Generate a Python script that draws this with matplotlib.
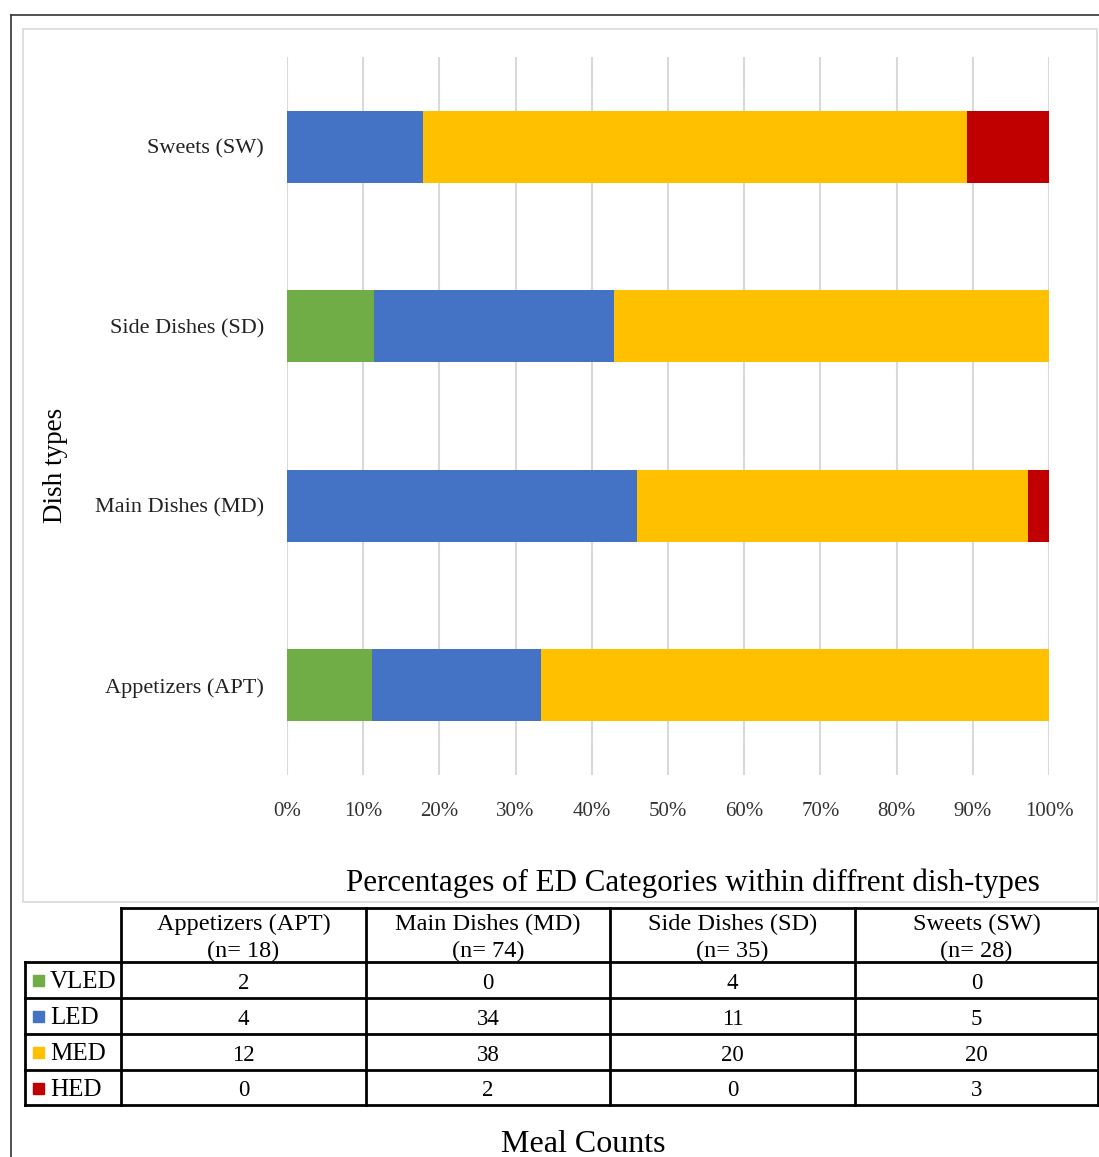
"""Stacked percentage bars of ED categories per dish type, with count table."""

import matplotlib

matplotlib.use("Agg")

import matplotlib.pyplot as plt
import numpy as np
from matplotlib.patches import Rectangle


DISH_TYPES = ["Appetizers (APT)", "Main Dishes (MD)", "Side Dishes (SD)", "Sweets (SW)"]
DISH_N = [18, 74, 35, 28]
CATEGORIES = ["VLED", "LED", "MED", "HED"]
COLORS = ["#70AD47", "#4472C4", "#FFC000", "#C00000"]
VLED = [2, 0, 4, 0]
LED = [4, 34, 11, 5]
MED = [12, 38, 20, 20]
HED = [0, 2, 0, 3]
X_TICKS = [0, 10, 20, 30, 40, 50, 60, 70, 80, 90, 100]

W, H = 1099, 1157
SERIF = ["Liberation Serif", "DejaVu Serif"]


def main() -> None:
    plt.rcParams["font.family"] = SERIF
    fig = plt.figure(figsize=(W / 100, H / 100), dpi=100)

    # background frame: dark outer border + light chart area border
    bg = fig.add_axes([0, 0, 1, 1])
    bg.set_xlim(0, W)
    bg.set_ylim(H, 0)
    bg.axis("off")
    bg.plot([11, W], [15, 15], color="#333333", lw=1.2)
    bg.plot([11, 11], [15, H], color="#333333", lw=1.2)
    bg.add_patch(Rectangle((23, 29), 1074, 873, fill=False, ec="#D9D9D9", lw=1.2))

    counts = np.array([VLED, LED, MED, HED], dtype=float)
    pct = counts / counts.sum(axis=0) * 100

    ax = fig.add_axes([287 / W, 1 - 775 / H, (1049 - 287) / W, (775 - 57) / H])
    y = np.arange(len(DISH_TYPES))
    left = np.zeros(len(DISH_TYPES))
    for row, color in zip(pct, COLORS):
        ax.barh(y, row, left=left, height=0.4, color=color, zorder=3)
        left += row
    ax.set_xlim(0, 100)
    ax.set_ylim(-0.5, 3.5)
    ax.set_xticks(X_TICKS)
    ax.set_xticklabels([f"{t}%" for t in X_TICKS], fontsize=15, color="#333333")
    ax.set_yticks(y)
    ax.set_yticklabels(DISH_TYPES, fontsize=16, color="#222222")
    ax.tick_params(length=0)
    ax.tick_params(axis="x", pad=19.5)
    ax.tick_params(axis="y", pad=16.5)
    ax.grid(axis="x", color="#D9D9D9", lw=1.5, zorder=0)
    for spine in ax.spines.values():
        spine.set_visible(False)

    fig.text(55 / W, 1 - 465 / H, "Dish types", rotation=90, ha="center",
             va="center", fontsize=19.5)
    fig.text(693 / W, 1 - 883 / H, "Percentages of ED Categories within diffrent dish-types",
             ha="center", va="center", fontsize=22.3)

    # count table
    col_x = [25, 121, 366, 610, 855, W - 1]
    row_y = [908, 962, 998, 1034, 1070, 1105]
    lw = 2.0
    bg.plot([col_x[1], col_x[-1]], [row_y[0], row_y[0]], color="black", lw=lw)
    for yy in row_y[1:]:
        bg.plot([col_x[0], col_x[-1]], [yy, yy], color="black", lw=lw)
    bg.plot([col_x[0], col_x[0]], [row_y[1], row_y[-1]], color="black", lw=lw)
    for xx in col_x[1:]:
        bg.plot([xx, xx], [row_y[0], row_y[-1]], color="black", lw=lw)

    for j, (name, n) in enumerate(zip(DISH_TYPES, DISH_N)):
        cx = (col_x[j + 1] + col_x[j + 2]) / 2
        bg.text(cx, 922, name, ha="center", va="center_baseline", fontsize=17.5)
        bg.text(cx, 949, f"(n= {n})", ha="center", va="center_baseline", fontsize=17.5)

    for i, (cat, color) in enumerate(zip(CATEGORIES, COLORS)):
        cy = (row_y[i + 1] + row_y[i + 2]) / 2
        bg.add_patch(Rectangle((33, cy - 5), 11, 11, color=color))
        bg.text(50, cy, cat, ha="left", va="center_baseline", fontsize=18)
        for j in range(len(DISH_TYPES)):
            cx = (col_x[j + 1] + col_x[j + 2]) / 2
            bg.text(cx, cy + 1, f"{int(counts[i, j])}", ha="center",
                    va="center_baseline", fontsize=16.5)

    fig.text(583 / W, 1 - 1144 / H, "Meal Counts", ha="center", va="center", fontsize=23)

    fig.savefig("out.png", dpi=100)
    plt.close(fig)


if __name__ == "__main__":
    main()
